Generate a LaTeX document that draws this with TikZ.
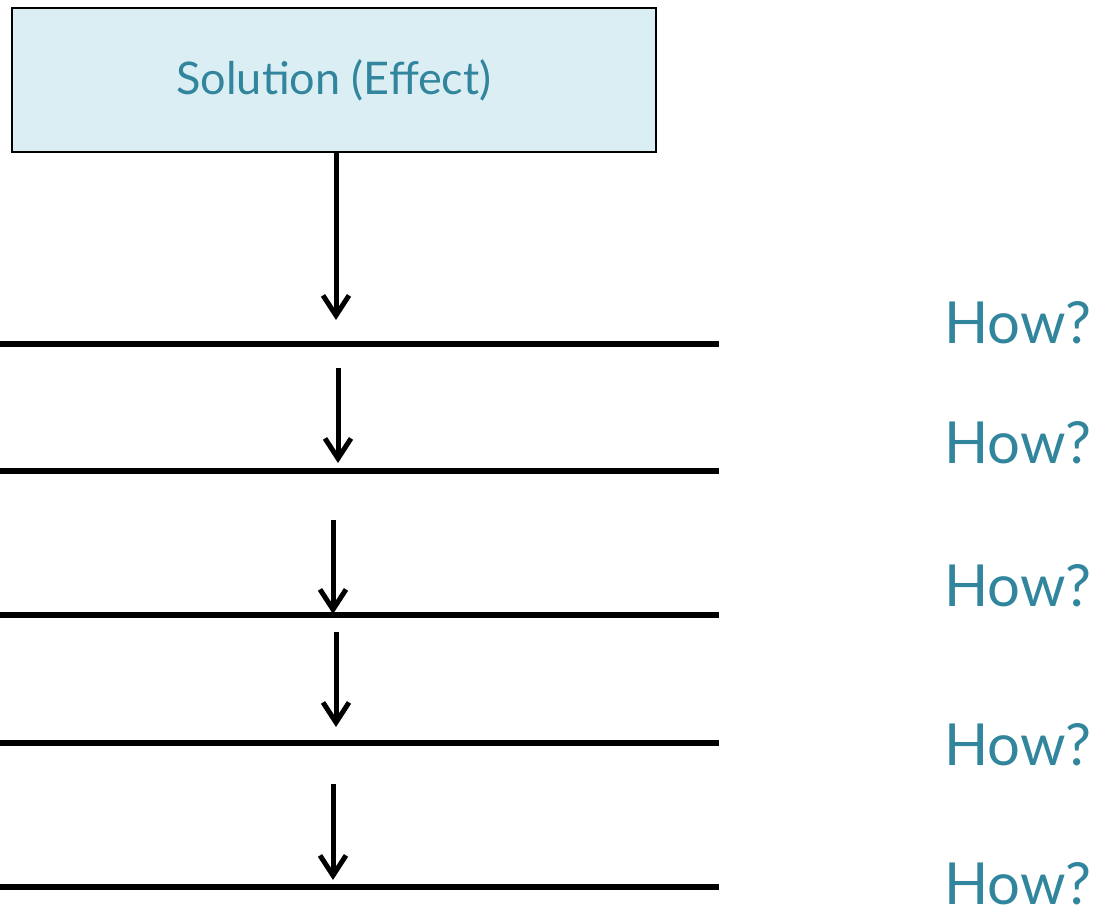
\documentclass[tikz,border=0pt]{standalone}
\usepackage{fontspec}
\setmainfont{Lato}
\usetikzlibrary{arrows.meta}
\definecolor{teal5}{HTML}{31859C}
\definecolor{aqua}{HTML}{DAEEF3}
\tikzset{
  level/.style={line width=5.5pt},
  flow/.style={line width=5pt, -{Straight Barb[length=20pt, width=26pt, line width=5pt]}},
  how/.style={text=teal5, font=\fontsize{58}{60}\selectfont, anchor=base east, inner sep=0pt},
}
\begin{document}
\begin{tikzpicture}[x=1pt, y=-1pt]
\useasboundingbox (0,0) rectangle (1103,916);
\node[draw=black, line width=2pt, fill=aqua, minimum width=644pt, minimum height=144pt, inner sep=0pt,
      text=teal5, font=\fontsize{45}{47}\selectfont] (box) at (334,80) {Solution (Effect)};
% horizontal lines
\coordinate (l1a) at (0,344); \coordinate (l1b) at (719,344);
\coordinate (l2a) at (0,471); \coordinate (l2b) at (719,471);
\coordinate (l3a) at (0,615); \coordinate (l3b) at (719,615);
\coordinate (l4a) at (0,743); \coordinate (l4b) at (719,743);
\coordinate (l5a) at (0,887); \coordinate (l5b) at (719,887);
\draw[level] (l1a) -- (l1b);
\draw[level] (l2a) -- (l2b);
\draw[level] (l3a) -- (l3b);
\draw[level] (l4a) -- (l4b);
\draw[level] (l5a) -- (l5b);
% arrows
\coordinate (a1e) at (336,320);
\coordinate (a2s) at (338,368); \coordinate (a2e) at (338,463);
\coordinate (a3s) at (333,520); \coordinate (a3e) at (333,614);
\coordinate (a4s) at (336,632); \coordinate (a4e) at (336,727);
\coordinate (a5s) at (333,784); \coordinate (a5e) at (333,880);
\draw[flow] (box.south -| a1e) -- (a1e);
\draw[flow] (a2s) -- (a2e);
\draw[flow] (a3s) -- (a3e);
\draw[flow] (a4s) -- (a4e);
\draw[flow] (a5s) -- (a5e);
% labels
\node[how] (h1) at (1092,343) {How?};
\node[how] (h2) at (1092,463) {How?};
\node[how] (h3) at (1092,606) {How?};
\node[how] (h4) at (1092,765) {How?};
\node[how] (h5) at (1092,904) {How?};
\end{tikzpicture}
\end{document}
